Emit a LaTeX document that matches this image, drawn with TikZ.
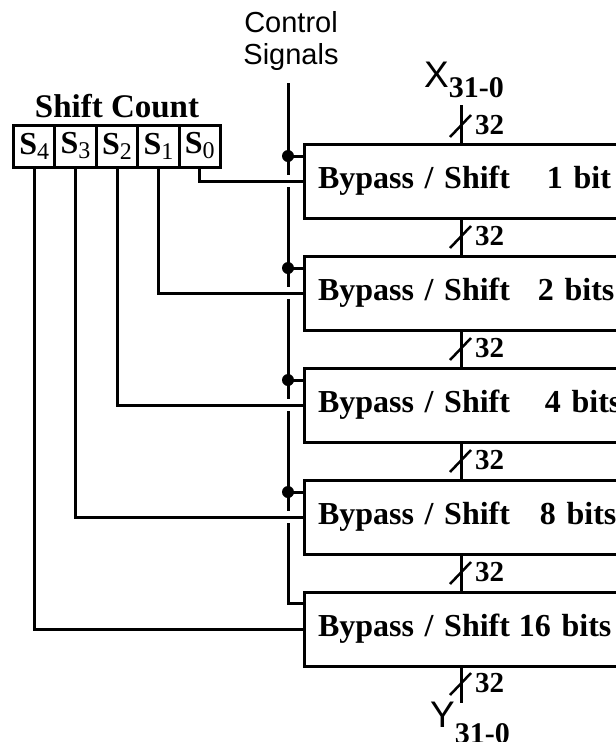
\documentclass[tikz,border=0pt]{standalone}
\usepackage{fontspec}
\setmainfont{Liberation Serif}
\newfontfamily\sansfont{Liberation Sans}
\usetikzlibrary{positioning, backgrounds}
\tikzstyle{shiftbox} = [rectangle, draw=black, line width=3pt, outer sep=0pt, minimum width=360pt, minimum height=74pt, text width=332pt, inner xsep=14pt, align=left, font=\fontsize{32}{34}\selectfont\bfseries]
\tikzstyle{cell} = [rectangle, draw=black, line width=3pt, outer sep=0pt, minimum width=41.4pt, minimum height=42pt, inner sep=0pt, font=\fontsize{32}{32}\selectfont\bfseries]
\tikzstyle{wire} = [line width=3pt]
\tikzstyle{selwire} = [line width=3pt, preaction={draw=white, line width=12pt}]
\tikzstyle{buslabel} = [anchor=base west, inner sep=0pt, font=\fontsize{29}{29}\selectfont\bfseries]

\begin{document}
\begin{tikzpicture}[x=1pt, y=-1pt]
    \useasboundingbox (0,0) rectangle (616,742);
    \clip (0,0) rectangle (616,742);

    % control signals and shift count register
    \node (ctrl) [align=center, font=\sansfont\fontsize{29}{32}\selectfont] at (291,41) {Control\\Signals};
    \coordinate (ctop) at (288,83);
    \node (title) [anchor=base, inner sep=0pt, font=\fontsize{33}{33}\selectfont\bfseries] at (117,117) {Shift Count};
    \foreach \i [count=\k from 0] in {4,3,2,1,0}
        \node (s\i) [cell] at (34.2+41.4*\k,146) {S\raisebox{-5pt}{\mdseries\fontsize{24}{24}\selectfont\i}};

    % shifter stages
    \node (b1) [shiftbox, anchor=north west] at (304,144) {\makebox[229pt][l]{Bypass / Shift}1 bit};
    \node (b2) [shiftbox, below=38pt of b1] {\makebox[220pt][l]{Bypass / Shift}2 bits};
    \node (b3) [shiftbox, below=38pt of b2] {\makebox[227pt][l]{Bypass / Shift}4 bits};
    \node (b4) [shiftbox, below=38pt of b3] {\makebox[222pt][l]{Bypass / Shift}8 bits};
    \node (b5) [shiftbox, below=38pt of b4] {\makebox[201pt][l]{Bypass / Shift}16 bits};

    \foreach \i in {1,...,4}
        \path (b\i.north west) ++(-16,12) coordinate (t\i);
    \path (b5.north west) ++(-16,11) coordinate (t5);

    \begin{scope}[on background layer]
        \draw[wire] (ctop) -- (t5) -- (t5 -| b5.west);
        \foreach \i in {1,...,4}
            \draw[wire] (t\i) -- (t\i -| b\i.west);
        \draw[selwire] (s0.south) |- (b1.west);
        \draw[selwire] (s1.south) |- (b2.west);
        \draw[selwire] (s2.south) |- (b3.west);
        \draw[selwire] (s3.south) |- (b4.west);
        \draw[selwire] (s4.south) |- (b5.west);
    \end{scope}
    \foreach \i in {1,...,4}
        \fill (t\i) circle (6pt);

    % data bus
    \coordinate (xin) at (461,105);
    \coordinate (yout) at (461,703);
    \draw[wire] (xin) -- (xin |- b1.north);
    \foreach \i/\j in {1/2,2/3,3/4,4/5}
        \draw[wire] (xin |- b\i.south) -- (xin |- b\j.north);
    \draw[wire] (xin |- b5.south) -- (yout);

    \foreach \y [count=\n] in {126,237,349,461,573,684} {
        \draw[line width=2.5pt] (450,\y+11) -- (471,\y-11);
        \node (w\n) [buslabel] at (475,\y+8) {32};
    }

    \node (xlab) [anchor=base west, inner sep=0pt, font=\sansfont\fontsize{37}{37}\selectfont] at (424,87) {X\raisebox{-10pt}{\rmfamily\bfseries\fontsize{30}{30}\selectfont 31-0}};
    \node (ylab) [anchor=base west, inner sep=0pt, font=\sansfont\fontsize{37}{37}\selectfont] at (430,727) {Y\raisebox{-16pt}{\rmfamily\bfseries\fontsize{30}{30}\selectfont 31-0}};

\end{tikzpicture}
\end{document}
